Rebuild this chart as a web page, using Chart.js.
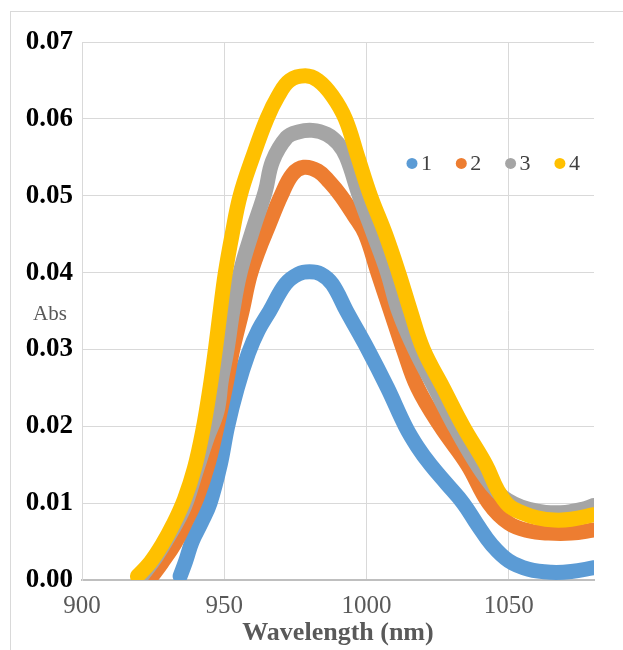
<!DOCTYPE html>
<html>
<head>
<meta charset="utf-8">
<script src="https://cdn.jsdelivr.net/npm/chart.js@4.4.1/dist/chart.umd.min.js"></script>
<style>
  html, body { margin: 0; padding: 0; background: #fff; }
  #wrap { position: relative; width: 623px; height: 650px; overflow: hidden; }
  #frame { position: absolute; left: 10px; top: 11px; width: 700px; height: 700px;
           border-left: 1px solid #d9d9d9; border-top: 1px solid #d9d9d9; pointer-events: none; }
  canvas { position: absolute; left: 0; top: 0; }
</style>
</head>
<body>
<div id="wrap">
  <canvas id="c" width="623" height="650"></canvas>
  <div id="frame"></div>
</div>
<script>
// ---- data ----
const seriesNames = ['1', '2', '3', '4'];
const seriesColors = ['#5B9BD5', '#ED7D31', '#A5A5A5', '#FFC000'];

const wl1 = [934.5, 936.5, 938.7, 942, 945, 948.6, 951.2, 954.6, 958.5, 962, 966, 971.5, 976, 980, 984, 988, 993, 1000.5, 1007.4, 1013.7, 1018, 1022.5, 1028, 1034, 1039, 1044, 1050, 1057, 1065, 1072, 1080];
const abs1 = [0.0005, 0.0025, 0.005, 0.0075, 0.010, 0.015, 0.020, 0.025, 0.0295, 0.0325, 0.035, 0.0385, 0.0398, 0.0401, 0.0398, 0.0385, 0.035, 0.030, 0.025, 0.020, 0.0173, 0.015, 0.0126, 0.010, 0.0072, 0.0046, 0.0025, 0.0014, 0.0010, 0.0011, 0.0016];

const wl2 = [924.6, 928, 932.7, 936.5, 940.5, 944.4, 947.5, 950.4, 953, 956.3, 959, 962, 965.5, 970, 974, 978, 983, 987, 991, 995.5, 999.6, 1004, 1008.5, 1013, 1018, 1026, 1035.5, 1043, 1050, 1057, 1064, 1072, 1080];
const abs2 = [0.0005, 0.0022, 0.0048, 0.0076, 0.0108, 0.0152, 0.020, 0.025, 0.030, 0.035, 0.0395, 0.0428, 0.046, 0.050, 0.0528, 0.0537, 0.0532, 0.0518, 0.050, 0.0475, 0.045, 0.040, 0.035, 0.030, 0.025, 0.020, 0.015, 0.010, 0.0074, 0.0064, 0.0061, 0.0061, 0.0065];

const wl3 = [921, 926, 931, 936, 940, 944, 947.5, 949, 951, 953, 955.6, 960, 964.4, 967, 972, 976, 981, 986, 990, 993, 997.5, 1002.5, 1007.4, 1011.3, 1017, 1024, 1031, 1038, 1044, 1048, 1052, 1057, 1063, 1070, 1076, 1080];
const abs3 = [0.0005, 0.003, 0.006, 0.0095, 0.014, 0.0185, 0.022, 0.026, 0.030, 0.035, 0.040, 0.0455, 0.0505, 0.0545, 0.0576, 0.0583, 0.0585, 0.058, 0.0568, 0.055, 0.050, 0.045, 0.040, 0.035, 0.030, 0.025, 0.020, 0.0155, 0.0123, 0.0108, 0.0099, 0.0092, 0.0088, 0.0088, 0.0092, 0.0097];

const wl4 = [919.5, 924, 928, 932, 936, 939.5, 942.5, 945, 946.9, 948.6, 950.4, 952.8, 955.6, 960, 965, 969, 973, 978.5, 983, 988, 992.6, 997, 1001.4, 1006.7, 1011.3, 1015.5, 1020, 1027, 1034, 1042, 1046, 1050, 1055, 1060, 1066, 1072, 1080];
const abs4 = [0.0005, 0.0023, 0.0045, 0.0072, 0.0105, 0.0145, 0.0195, 0.025, 0.030, 0.035, 0.040, 0.045, 0.050, 0.055, 0.060, 0.063, 0.065, 0.0656, 0.065, 0.063, 0.060, 0.055, 0.050, 0.045, 0.040, 0.035, 0.030, 0.025, 0.020, 0.015, 0.0118, 0.0097, 0.0087, 0.0081, 0.0078, 0.0079, 0.0085];

const xTicks = [900, 950, 1000, 1050];
const yTicks = [0, 0.01, 0.02, 0.03, 0.04, 0.05, 0.06, 0.07];
const xTitle = 'Wavelength (nm)';
const yTitle = 'Abs';

// ---- build datasets ----
const wls = [wl1, wl2, wl3, wl4];
const abss = [abs1, abs2, abs3, abs4];
const datasets = seriesNames.map((name, i) => ({
  label: name,
  data: wls[i].map((x, k) => ({ x: x, y: abss[i][k] })),
  borderColor: seriesColors[i],
  backgroundColor: seriesColors[i],
  order: seriesNames.length - 1 - i,
  fill: false
}));

const serif = "'Liberation Serif', 'Times New Roman', serif";

// y-axis "Abs" label (horizontal) and in-plot legend
const extras = {
  id: 'extras',
  afterDraw(chart) {
    const ctx = chart.ctx;
    const ys = chart.scales.y;
    const area = chart.chartArea;
    ctx.save();
    ctx.fillStyle = '#595959';
    ctx.font = '21px ' + serif;
    ctx.textAlign = 'center';
    ctx.textBaseline = 'middle';
    ctx.fillText(yTitle, 50, ys.getPixelForValue(0.0345));

    // legend
    const ly = ys.getPixelForValue(0.0542);
    let lx = area.left + 330;
    ctx.font = '22px ' + serif;
    ctx.textAlign = 'left';
    chart.data.datasets.forEach((ds) => {
      ctx.fillStyle = ds.borderColor;
      ctx.beginPath();
      ctx.arc(lx, ly, 5.5, 0, Math.PI * 2);
      ctx.fill();
      ctx.fillStyle = '#404040';
      ctx.fillText(ds.label, lx + 9, ly + 1);
      lx += 49.3;
    });
    ctx.restore();
  }
};

new Chart(document.getElementById('c'), {
  type: 'line',
  data: { datasets: datasets },
  plugins: [extras],
  options: {
    responsive: false,
    animation: false,
    layout: { padding: { left: 0, right: 29, top: 42, bottom: 0 } },
    plugins: { legend: { display: false }, tooltip: { enabled: false } },
    elements: {
      point: { radius: 0, hoverRadius: 0 },
      line: { borderWidth: 15, borderCapStyle: 'round', borderJoinStyle: 'round', tension: 0.4 }
    },
    scales: {
      x: {
        type: 'linear', min: 900, max: 1080,
        afterBuildTicks: s => { s.ticks = xTicks.map(v => ({ value: v })); },
        afterFit: s => { s.height = 70; },
        grid: { color: '#d9d9d9', drawTicks: false, lineWidth: 1 },
        border: { color: '#bfbfbf', width: 2 },
        ticks: { padding: 11, color: '#595959', font: { family: serif, size: 25 }, callback: v => String(v) },
        title: { display: true, text: xTitle, color: '#595959', font: { family: serif, size: 26, weight: 'bold' }, padding: { top: 0, bottom: 1 } }
      },
      y: {
        min: 0, max: 0.07,
        afterBuildTicks: s => { s.ticks = yTicks.map(v => ({ value: v })); },
        afterFit: s => { s.width = 82; },
        grid: { color: '#d9d9d9', drawTicks: false, lineWidth: 1 },
        border: { color: '#d9d9d9', width: 1 },
        ticks: { padding: 9, color: '#000000', font: { family: serif, size: 27, weight: 'bold' }, callback: v => v.toFixed(2) }
      }
    }
  }
});
</script>
</body>
</html>
